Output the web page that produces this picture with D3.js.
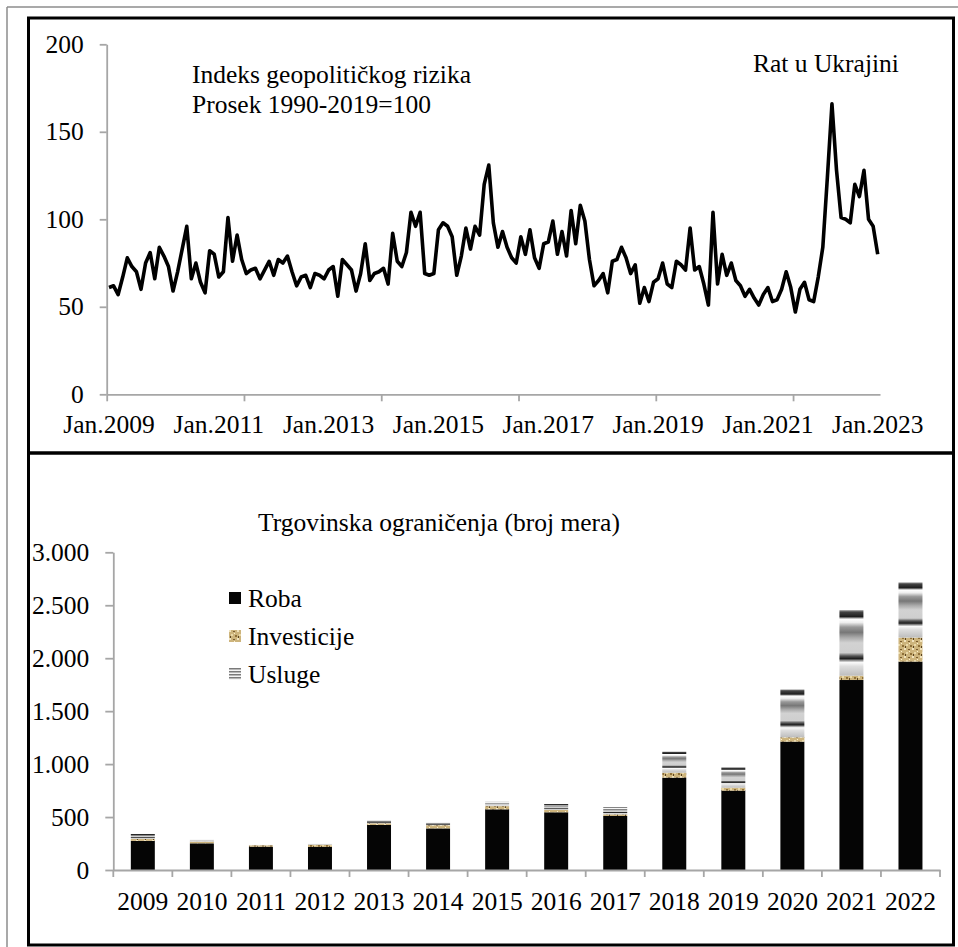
<!DOCTYPE html>
<html>
<head>
<meta charset="utf-8">
<script src="https://cdn.jsdelivr.net/npm/d3@7"></script>
<style>
  body { margin: 0; background: #fff; }
  svg text { font-family: "Liberation Serif", "Times New Roman", serif; fill: #000; }
</style>
</head>
<body>
<div class="canvas"></div>
<script>
// geopolitical risk index, monthly Jan.2009 - Jan.2023
const griValues = [
  61, 62, 57, 67, 78, 73, 70, 60, 75, 81, 66, 84,
  79, 73, 59, 70, 83, 96, 66, 75, 64, 58, 82, 80,
  67, 70, 101, 76, 91, 77, 69, 71, 72, 66, 71, 76,
  68, 77, 75, 79, 70, 62, 67, 68, 61, 69, 68, 66,
  71, 73, 56, 77, 74, 71, 59, 69, 86, 65, 69, 70,
  72, 63, 92, 76, 73, 81, 104, 96, 104, 69, 68, 69,
  94, 98, 96, 90, 68, 79, 95, 83, 96, 91, 120, 131,
  98, 84, 93, 84, 78, 75, 90, 80, 94, 78, 72, 86,
  87, 99, 80, 93, 79, 105, 86, 108, 99, 77, 62, 65,
  69, 58, 76, 77, 84, 78, 69, 74, 52, 61, 53, 64,
  66, 75, 63, 61, 76, 74, 71, 95, 71, 73, 63, 51,
  104, 63, 80, 68, 75, 65, 62, 56, 60, 55, 51, 57,
  61, 53, 54, 60, 70, 61, 47, 60, 64, 54, 53, 67,
  84, 124, 166, 128, 101, 100, 98, 120, 113, 128, 100, 96,
  80
];
const griTicks = [0, 50, 100, 150, 200];
const griLabels = ["Jan.2009", "Jan.2011", "Jan.2013", "Jan.2015", "Jan.2017", "Jan.2019", "Jan.2021", "Jan.2023"];

// trade restrictions (number of measures)
const years = ["2009", "2010", "2011", "2012", "2013", "2014", "2015", "2016", "2017", "2018", "2019", "2020", "2021", "2022"];
const roba = [275, 252, 220, 218, 425, 393, 573, 545, 510, 872, 749, 1212, 1794, 1968];
const investicije = [18, 15, 14, 20, 16, 30, 30, 22, 15, 47, 28, 41, 41, 227];
const usluge = [47, 25, 8, 8, 25, 22, 42, 56, 67, 200, 193, 453, 620, 522];
const seriesNames = ["Roba", "Investicije", "Usluge"];
const tradeTicks = [0, 500, 1000, 1500, 2000, 2500, 3000];

const width = 958, height = 947;
const fontSize = 25.5;
const axisColor = "#a6a6a6";

const svg = d3.select('.canvas')
    .append('svg')
    .attr('width', width)
    .attr('height', height);

const defs = svg.append('defs');

// texture for investicije
const inv = defs.append('pattern')
    .attr('id', 'invPat')
    .attr('patternUnits', 'userSpaceOnUse')
    .attr('width', 8).attr('height', 8);
inv.append('rect').attr('width', 8).attr('height', 8).attr('fill', '#cdb47c');
[[0,0,2,2,'#f1e3bd'],[4,1,2,1,'#7a5c2e'],[2,4,2,2,'#e9d8a8'],[6,5,2,2,'#8f7038'],[1,6,1,2,'#5b4522'],[5,3,1,1,'#fff3d0']]
  .forEach(r => inv.append('rect').attr('x', r[0]).attr('y', r[1]).attr('width', r[2]).attr('height', r[3]).attr('fill', r[4]));

// grey banded gradient for usluge (stretched over each bar piece)
const usl = defs.append('linearGradient')
    .attr('id', 'uslGrad')
    .attr('x1', 0).attr('y1', 0).attr('x2', 0).attr('y2', 1);
[[0,'#bbb'],[0.03,'#444'],[0.1,'#1e1e1e'],[0.14,'#fff'],[0.19,'#eee'],[0.26,'#999'],[0.34,'#777'],[0.42,'#aaa'],
 [0.5,'#d2d2d2'],[0.65,'#cfcfcf'],[0.7,'#555'],[0.74,'#1e1e1e'],[0.77,'#999'],[0.8,'#fafafa'],[0.86,'#ddd'],[1,'#bdbdbd']]
  .forEach(s => usl.append('stop').attr('offset', s[0]).attr('stop-color', s[1]));

// striped icon for the legend
const uslIcon = defs.append('pattern')
    .attr('id', 'uslIcon')
    .attr('patternUnits', 'userSpaceOnUse')
    .attr('width', 12).attr('height', 3);
uslIcon.append('rect').attr('width', 12).attr('height', 3).attr('fill', '#f4f4f4');
uslIcon.append('rect').attr('width', 12).attr('height', 1.5).attr('fill', '#7a7a7a');

// frames
svg.append('line').attr('x1', 7).attr('y1', 7).attr('x2', width).attr('y2', 7).attr('stroke', '#8c8c8c').attr('stroke-width', 1.5);
svg.append('line').attr('x1', 7).attr('y1', 7).attr('x2', 7).attr('y2', height).attr('stroke', '#8c8c8c').attr('stroke-width', 1.5);
svg.append('rect')
    .attr('x', 28.5).attr('y', 18).attr('width', 925).attr('height', 927)
    .attr('fill', 'none').attr('stroke', '#000').attr('stroke-width', 3);
svg.append('line').attr('x1', 28.5).attr('x2', 953.5).attr('y1', 453).attr('y2', 453)
    .attr('stroke', '#000').attr('stroke-width', 3.5);

const styleAxis = g => {
    g.selectAll('path, line').attr('stroke', axisColor).attr('stroke-width', 1.8);
    g.selectAll('text').attr('font-size', fontSize).attr('fill', '#000')
        .attr('font-family', '"Liberation Serif", "Times New Roman", serif');
};

// ---------- top panel: line chart ----------
const x = d3.scaleLinear().domain([0, griValues.length]).range([106.7, 880]);
const y = d3.scaleLinear().domain([0, 200]).range([394.3, 44.3]);

svg.append('g')
    .attr('transform', `translate(${x.range()[0]},0)`)
    .call(d3.axisLeft(y).tickValues(griTicks).tickSize(7).tickSizeOuter(0).tickPadding(16))
    .call(styleAxis);

svg.append('g')
    .attr('transform', `translate(0,${y(0)})`)
    .call(d3.axisBottom(x).tickValues(d3.range(0, griValues.length, 30)).tickFormat('').tickSize(7).tickSizeOuter(0))
    .call(styleAxis);

svg.append('g').selectAll('text')
    .data(griLabels)
    .enter().append('text')
    .attr('x', (d, i) => x(i * 24 + 0.5))
    .attr('y', 433)
    .attr('text-anchor', 'middle')
    .attr('font-size', fontSize)
    .text(d => d);

const line = d3.line()
    .x((d, i) => x(i + 0.5))
    .y(d => y(d));

svg.append('path')
    .datum(griValues)
    .attr('fill', 'none')
    .attr('stroke', '#000')
    .attr('stroke-width', 3.6)
    .attr('stroke-linejoin', 'round')
    .attr('d', line);

svg.append('text').attr('x', 192).attr('y', 83).attr('font-size', fontSize).text('Indeks geopolitičkog rizika');
svg.append('text').attr('x', 192).attr('y', 113).attr('font-size', fontSize).text('Prosek 1990-2019=100');
svg.append('text').attr('x', 753).attr('y', 72).attr('font-size', fontSize).text('Rat u Ukrajini');

// ---------- bottom panel: stacked bars ----------
const locale = d3.formatLocale({decimal: ',', thousands: '.', grouping: [3], currency: ['', '']});
const fmt = locale.format(',d');

const xb = d3.scaleBand().domain(years).range([113.3, 940]).paddingInner(0.594).paddingOuter(0.297);
const yb = d3.scaleLinear().domain([0, 3000]).range([870, 552.3]);

const table = years.map((yr, i) => ({year: yr, Roba: roba[i], Investicije: investicije[i], Usluge: usluge[i]}));
const stack = d3.stack().keys(seriesNames)(table);
const fills = {Roba: '#050505', Investicije: 'url(#invPat)', Usluge: 'url(#uslGrad)'};

svg.append('g').selectAll('g')
    .data(stack)
    .enter().append('g')
    .attr('fill', d => fills[d.key])
    .selectAll('rect')
    .data(d => d)
    .enter().append('rect')
    .attr('x', d => xb(d.data.year))
    .attr('width', xb.bandwidth())
    .attr('y', d => yb(d[1]))
    .attr('height', d => yb(d[0]) - yb(d[1]));

svg.append('g')
    .attr('transform', `translate(${xb.range()[0]},0)`)
    .call(d3.axisLeft(yb).tickValues(tradeTicks).tickFormat(fmt).tickSize(8).tickSizeOuter(0).tickPadding(16))
    .call(styleAxis);

const xAxisG = svg.append('g')
    .attr('transform', `translate(0,${yb(0)})`)
    .call(d3.axisBottom(xb).tickSize(0).tickSizeOuter(0).tickPadding(22))
    .call(styleAxis);

// Excel style ticks between categories
xAxisG.selectAll('.sep')
    .data(d3.range(years.length + 1))
    .enter().append('line')
    .attr('class', 'sep')
    .attr('x1', i => xb.range()[0] + i * xb.step())
    .attr('x2', i => xb.range()[0] + i * xb.step())
    .attr('y1', 0).attr('y2', 7)
    .attr('stroke', axisColor).attr('stroke-width', 1.8);

svg.append('text').attr('x', 258).attr('y', 531).attr('font-size', fontSize).text('Trgovinska ograničenja (broj mera)');

// legend
const legendFills = {Roba: '#050505', Investicije: 'url(#invPat)', Usluge: 'url(#uslIcon)'};
const legend = svg.append('g').attr('transform', 'translate(229,592)');
const items = legend.selectAll('g')
    .data(seriesNames)
    .enter().append('g')
    .attr('transform', (d, i) => `translate(0,${i * 38})`);
items.append('rect')
    .attr('width', 12).attr('height', 12)
    .attr('fill', d => legendFills[d]);
items.append('text')
    .attr('x', 19).attr('y', 14.5)
    .attr('font-size', fontSize)
    .text(d => d);
</script>
</body>
</html>
